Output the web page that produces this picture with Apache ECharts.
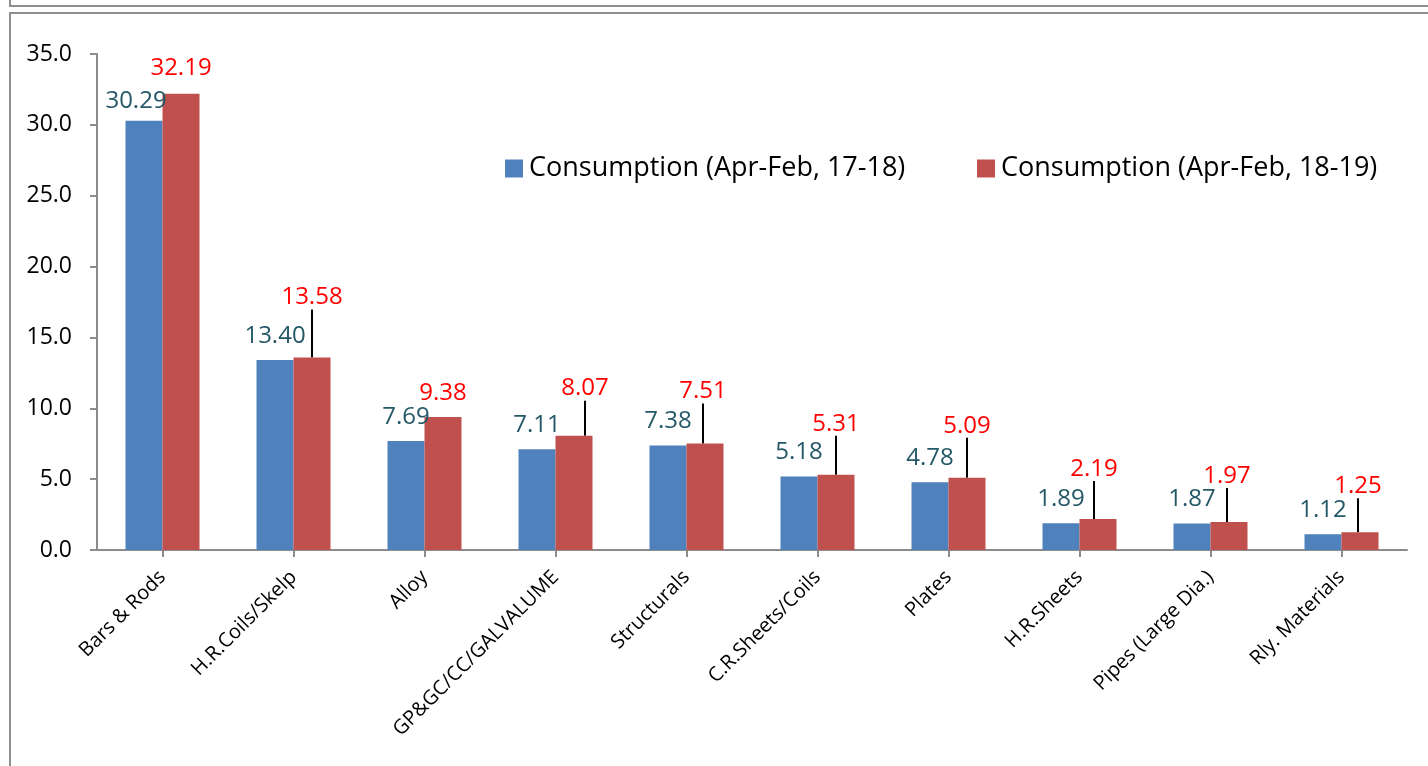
<!DOCTYPE html>
<html>
<head>
<meta charset="utf-8">
<script src="https://cdn.jsdelivr.net/npm/echarts@6/dist/echarts.min.js"></script>
<style>
  html, body { margin: 0; padding: 0; background: #fff; }
  #wrap { position: relative; width: 1428px; height: 766px; overflow: hidden; }
  #main { position: absolute; left: 0; top: 0; width: 1428px; height: 766px; }
  .frame { position: absolute; border-color: #8f8f8f; border-style: solid; }
</style>
</head>
<body>
<div id="wrap">
  <div class="frame" style="left:9px; top:-20px; width:1500px; height:25px; border-width:0 0 2px 2px;"></div>
  <div class="frame" style="left:9px; top:12px; width:1500px; height:800px; border-width:2px 0 0 2px;"></div>
  <div id="main"></div>
</div>
<script>
const categories = ['Bars & Rods', 'H.R.Coils/Skelp', 'Alloy', 'GP&GC/CC/GALVALUME', 'Structurals',
  'C.R.Sheets/Coils', 'Plates', 'H.R.Sheets', 'Pipes (Large Dia.)', 'Rly. Materials'];
const seriesNames = ['Consumption (Apr-Feb, 17-18)', 'Consumption (Apr-Feb, 18-19)'];
const consumption1718 = [30.29, 13.40, 7.69, 7.11, 7.38, 5.18, 4.78, 1.89, 1.87, 1.12];
const consumption1819 = [32.19, 13.58, 9.38, 8.07, 7.51, 5.31, 5.09, 2.19, 1.97, 1.25];
const yTicks = [0, 5, 10, 15, 20, 25, 30, 35];

// nudges for the red labels that sit on a leader line
const redShiftX = [0, 0, 0, 11, -2, 0, 0, -4, -2, -2];
const redShiftY = [-2, -36, 0, -23, -28, -27, -28, -26, -22, -22];
const blueShiftX = [-8, 0, 0, 0, 0, 0, 0, 0, 0, 0];
const blueShiftY = [4, 0, 0, 0, 0, 0, 0, 0, 0, 0];

const FONT = '"Open Sans", "Noto Sans", sans-serif';
const BLUE = '#4F81BD';
const RED = '#C0504D';

const chart = echarts.init(document.getElementById('main'), null, { renderer: 'canvas' });

const redData = consumption1819.map((v, i) => ({
  value: v,
  labelLine: { show: Math.abs(redShiftY[i]) > 5 }
}));

const option = {
  backgroundColor: 'transparent',
  animation: false,
  textStyle: { fontFamily: FONT },
  legend: [
    {
      data: [seriesNames[0]],
      left: 500, top: 150,
      itemWidth: 18, itemHeight: 18,
      itemGap: 8,
      icon: 'rect',
      textStyle: { fontFamily: FONT, fontSize: 27, color: '#000', padding: [0, 0, 0, 1] }
    },
    {
      data: [seriesNames[1]],
      left: 972, top: 150,
      itemWidth: 18, itemHeight: 18,
      icon: 'rect',
      textStyle: { fontFamily: FONT, fontSize: 27, color: '#000', padding: [0, 0, 0, 1] }
    }
  ],
  grid: { left: 97, right: 21, top: 54, bottom: 216, containLabel: false },
  xAxis: {
    type: 'category',
    data: categories,
    axisLine: { lineStyle: { color: '#8c8c8c', width: 2 } },
    axisTick: { show: true, alignWithLabel: true, length: 7, lineStyle: { color: '#8c8c8c', width: 2 } },
    axisLabel: {
      interval: 0,
      rotate: 45,
      margin: 24,
      fontFamily: FONT,
      fontSize: 20,
      color: '#000'
    }
  },
  yAxis: {
    type: 'value',
    min: yTicks[0],
    max: yTicks[yTicks.length - 1],
    interval: 5,
    splitLine: { show: false },
    axisLine: { show: true, lineStyle: { color: '#8c8c8c', width: 2 } },
    axisTick: { show: true, length: 7, lineStyle: { color: '#8c8c8c', width: 2 } },
    axisLabel: {
      margin: 25,
      fontFamily: FONT,
      fontSize: 23,
      color: '#000',
      formatter: v => v.toFixed(1)
    }
  },
  series: [
    {
      name: seriesNames[0],
      type: 'bar',
      barWidth: 37,
      barGap: '0%',
      itemStyle: { color: BLUE },
      label: {
        show: true,
        position: 'top',
        distance: 12,
        fontFamily: FONT,
        fontSize: 24,
        color: '#255867',
        formatter: p => p.value.toFixed(2)
      },
      labelLayout: p => ({ dx: blueShiftX[p.dataIndex], dy: blueShiftY[p.dataIndex] }),
      data: consumption1718
    },
    {
      name: seriesNames[1],
      type: 'bar',
      barWidth: 37,
      barGap: '0%',
      itemStyle: { color: RED },
      label: {
        show: true,
        position: 'top',
        distance: 12,
        fontFamily: FONT,
        fontSize: 24,
        color: '#FF0000',
        formatter: p => p.value.toFixed(2)
      },
      labelLine: { show: true, lineStyle: { color: '#000', width: 2 } },
      labelLayout: p => ({ dx: redShiftX[p.dataIndex], dy: redShiftY[p.dataIndex] }),
      data: redData
    }
  ]
};

chart.setOption(option);
</script>
</body>
</html>
